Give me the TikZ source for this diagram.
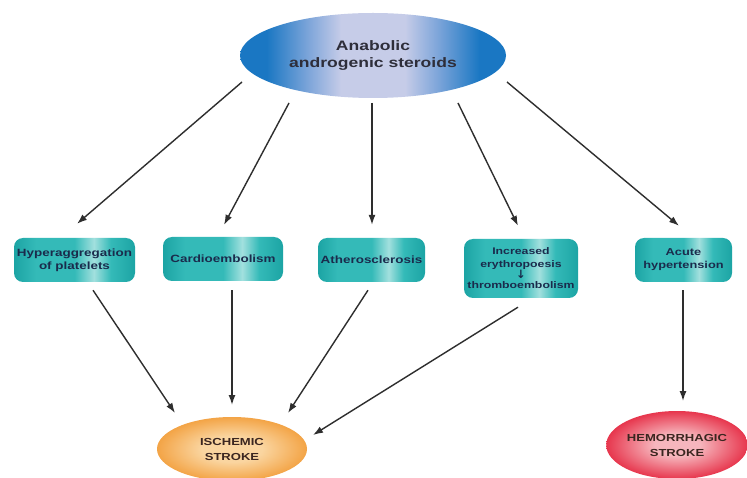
\documentclass[tikz,border=0pt]{standalone}
\usepackage{fontspec}
\setmainfont{Liberation Sans}
\newfontfamily\labfont[FakeStretch=1.28]{Liberation Sans}
\newfontfamily\symfont{DejaVu Sans}
\usetikzlibrary{shapes.geometric,arrows.meta,calc}
\definecolor{topB}{HTML}{1A77C3}
\definecolor{topM}{HTML}{7FA6DA}
\definecolor{topL}{HTML}{C6CCE8}
\definecolor{tealD}{HTML}{1CA4A4}
\definecolor{tealM}{HTML}{34BAB8}
\definecolor{tealL}{HTML}{A2E0DE}
\definecolor{oraL}{HTML}{FAD5A0}
\definecolor{oraD}{HTML}{F3A446}
\definecolor{redL}{HTML}{F6B6BD}
\definecolor{redD}{HTML}{E7364D}
\definecolor{topTxt}{HTML}{2E2E3A}
\definecolor{boxTxt}{HTML}{1A2B4C}
\definecolor{strTxt}{HTML}{3B2620}
\definecolor{arrC}{HTML}{2E2E2E}
\pgfdeclarehorizontalshading{topsh}{100bp}{color(0bp)=(topB); color(25bp)=(topB); color(30bp)=(topB); color(38bp)=(topM); color(44bp)=(topL); color(56bp)=(topL); color(62bp)=(topM); color(70bp)=(topB); color(75bp)=(topB); color(100bp)=(topB)}
\pgfdeclarehorizontalshading{boxsh}{100bp}{color(0bp)=(tealD); color(25bp)=(tealD); color(34bp)=(tealM); color(50bp)=(tealM); color(58bp)=(tealL); color(65bp)=(tealM); color(75bp)=(tealD); color(100bp)=(tealD)}
\pgfdeclareradialshading{orash}{\pgfpoint{0bp}{0bp}}{color(0bp)=(oraL); color(10bp)=(oraL); color(25bp)=(oraD); color(50bp)=(oraD)}
\pgfdeclareradialshading{redsh}{\pgfpoint{0bp}{0bp}}{color(0bp)=(redL); color(8bp)=(redL); color(25bp)=(redD); color(50bp)=(redD)}
\begin{document}
\begin{tikzpicture}[x=1pt,y=-1pt,
  topnode/.style={ellipse,shading=topsh,inner sep=0pt,minimum width=266pt,minimum height=85pt,
    align=center,text=topTxt,font=\labfont\bfseries\fontsize{13.7}{17}\selectfont},
  boxnode/.style={rectangle,rounded corners=9pt,shading=boxsh,inner sep=0pt,minimum height=44pt,
    align=center,text=boxTxt,font=\labfont\bfseries\fontsize{10.5}{13}\selectfont},
  strokenode/.style={ellipse,inner sep=0pt,align=center,text=strTxt,
    font=\labfont\bfseries\fontsize{10.2}{15}\selectfont},
  arr/.style={draw=arrC,line width=1.4pt,-{Latex[length=10pt,width=7pt]}}]
\useasboundingbox (0,0) rectangle (747,478);
\fill[white] (0,0) rectangle (747,478);

\node[topnode] (top) at (373,55.5) {Anabolic\\androgenic steroids};

\node[boxnode,minimum width=121pt] (b1) at (74.5,260) {Hyperaggregation\\of platelets};
\node[boxnode,minimum width=120pt] (b2) at (223,259) {Cardioembolism};
\node[boxnode,minimum width=107pt] (b3) at (371.5,260) {Atherosclerosis};
\node[boxnode,minimum width=114pt,minimum height=59pt,font=\labfont\bfseries\fontsize{9.6}{12.3}\selectfont] (b4) at (521,268.5) {Increased\\erythropoesis\\[-1.5pt]{\symfont\bfseries\fontsize{11.5}{11}\selectfont ↓}\\[-1.5pt]thromboembolism};
\node[boxnode,minimum width=97pt,font=\labfont\bfseries\fontsize{10}{13}\selectfont] (b5) at (683.5,260) {Acute\\hypertension};

\node[strokenode,shading=orash,minimum width=150pt,minimum height=64pt] (isch) at (232,449) {ISCHEMIC\\STROKE};
\node[strokenode,shading=redsh,minimum width=138pt,minimum height=68pt] (hem) at (677,445) {HEMORRHAGIC\\STROKE};

\draw[arr] ($(top.center)+(-131,26.5)$) -- ($(b1.north)+(2.5,-14)$);
\draw[arr] ($(top.center)+(-84,47.5)$) -- ($(b2.north)+(1,-12)$);
\draw[arr] ($(top.center)+(-1,47.5)$) -- ($(b3.north)+(0.5,-13)$);
\draw[arr] ($(top.center)+(85,47.5)$) -- ($(b4.north)+(-3,-13)$);
\draw[arr] ($(top.center)+(134,26.5)$) -- ($(b5.north)+(-4.5,-12)$);

\draw[arr] ($(b1.south)+(18.5,8)$) -- ($(isch.center)+(-57,-36)$);
\draw[arr] ($(b2.south)+(9,9)$) -- ($(isch.center)+(0,-44)$);
\draw[arr] ($(b3.south)+(-3.5,8)$) -- ($(isch.center)+(56,-36)$);
\draw[arr] ($(b4.south)+(-3,9)$) -- ($(isch.center)+(81,-14)$);
\draw[arr] ($(b5.south)+(-0.5,8)$) -- ($(hem.center)+(6,-44)$);
\end{tikzpicture}
\end{document}
